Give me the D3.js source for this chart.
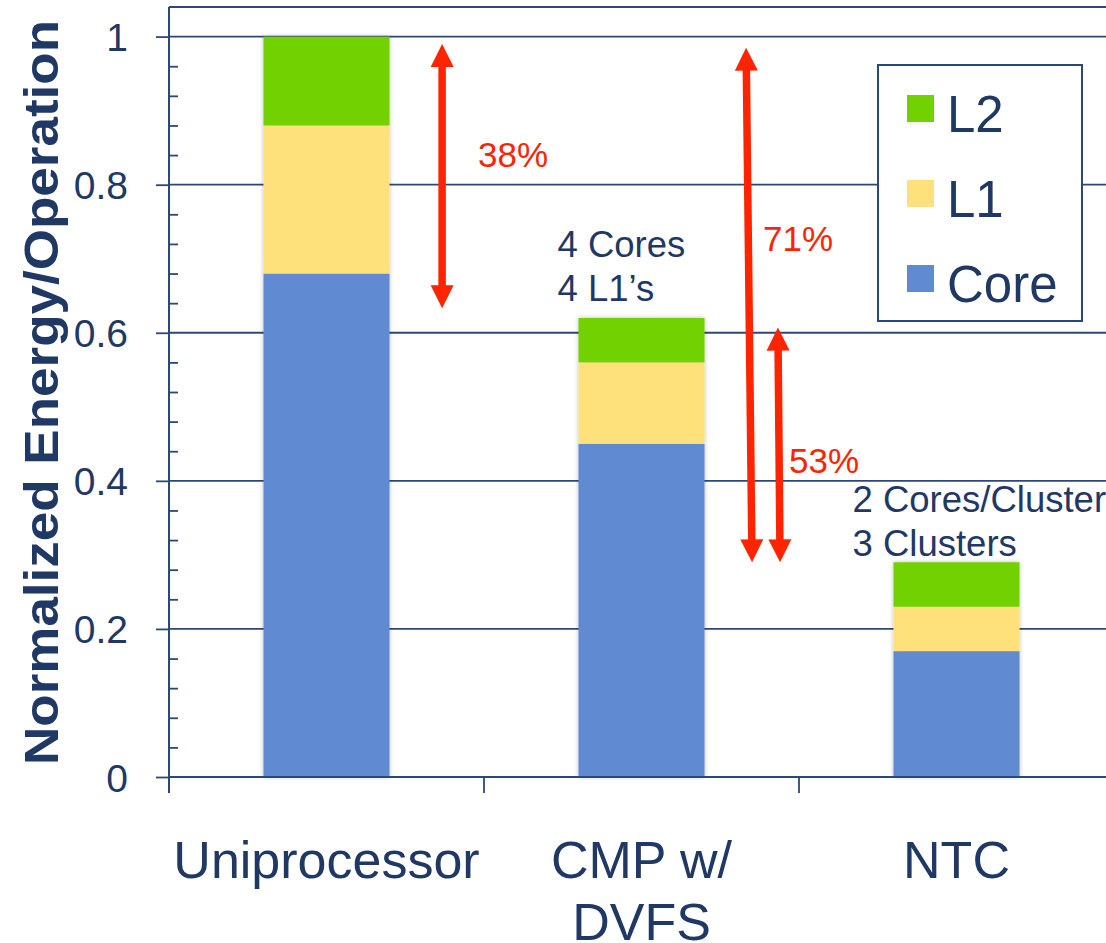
<!DOCTYPE html>
<html>
<head>
<meta charset="utf-8">
<script src="https://cdn.jsdelivr.net/npm/d3@7"></script>
<style>
  html, body { margin: 0; padding: 0; background: #fff; overflow: hidden; }
  svg { display: block; font-family: "Liberation Sans", Arial, Helvetica, sans-serif; }
</style>
</head>
<body>
<svg id="chart" width="1106" height="943"></svg>
<script>
// ---- data ----
const categories = ["Uniprocessor", "CMP w/ DVFS", "NTC"];
const categoryLines = [["Uniprocessor"], ["CMP w/", "DVFS"], ["NTC"]];
const seriesNames = ["Core", "L1", "L2"];
const coreValues = [0.68, 0.45, 0.17];
const l1Values = [0.20, 0.11, 0.06];
const l2Values = [0.12, 0.06, 0.06];
const yTicks = [0, 0.2, 0.4, 0.6, 0.8, 1];
const yTickLabels = ["0", "0.2", "0.4", "0.6", "0.8", "1"];
const yMax = 1.04;

// category notes above bars
const noteCategories = ["CMP w/ DVFS", "NTC"];
const noteLines = [["4 Cores", "4 L1\u2019s"], ["2 Cores/Cluster", "3 Clusters"]];

// reduction arrows (values on the energy axis)
const arrowLabels = ["38%", "71%", "53%"];
const arrowCategories = ["Uniprocessor", "CMP w/ DVFS", "CMP w/ DVFS"];
const arrowTop = [0.99, 0.985, 0.607];
const arrowBottom = [0.633, 0.29, 0.29];

// ---- layout / style ----
const navy = "#1F3864";
const lineColor = "#2C4878";
const red = "#FF2400";
const colors = { Core: "#608BD2", L1: "#FFE17B", L2: "#72D100" };
const arrowXTop = [0.867, 0.832, 0.933];     // fraction of category step
const arrowXBottom = [0.867, 0.851, 0.940];
const arrowLabelDx = [36, 14, 10];
const arrowLabelY = [0.824, 0.710, 0.411];
const noteDx = [-84, -104];
const noteBottomGap = [17, 6];

const svg = d3.select("#chart");
const plotLeft = 169, plotRight = 1114, plotTop = 7, plotBottom = 777;

const x = d3.scaleBand().domain(categories).range([plotLeft, plotRight])
  .paddingInner(0.6).paddingOuter(0.3);
const step = x.step();
const y = d3.scaleLinear().domain([0, yMax]).range([plotBottom, plotTop]);

const defs = svg.append("defs");
const f = defs.append("filter").attr("id", "barShadow")
  .attr("x", "-20%").attr("y", "-10%").attr("width", "140%").attr("height", "120%");
f.append("feDropShadow").attr("dx", 0).attr("dy", 0).attr("stdDeviation", 2.2)
  .attr("flood-color", "#000").attr("flood-opacity", 0.28);

// gridlines + top border
const grid = svg.append("g");
grid.selectAll("line").data(yTicks.filter(d => d > 0).concat([yMax])).join("line")
  .attr("x1", plotLeft).attr("x2", plotRight)
  .attr("y1", d => y(d)).attr("y2", d => y(d))
  .attr("stroke", lineColor).attr("stroke-width", 1.8);

// stacked bars
const stackData = categories.map((c, i) => ({ cat: c, Core: coreValues[i], L1: l1Values[i], L2: l2Values[i] }));
const stacked = d3.stack().keys(seriesNames)(stackData);
const barGroups = svg.append("g").selectAll("g").data(stackData).join("g")
  .attr("filter", "url(#barShadow)");
barGroups.each(function(d, i) {
  const g = d3.select(this);
  stacked.forEach(layer => {
    const seg = layer[i];
    g.append("rect")
      .attr("x", x(d.cat)).attr("width", x.bandwidth())
      .attr("y", y(seg[1])).attr("height", y(seg[0]) - y(seg[1]))
      .attr("fill", colors[layer.key]);
  });
});

// y axis (major ticks to the left, labels)
const yAxis = d3.axisLeft(y).tickValues(yTicks).tickSize(13).tickPadding(28)
  .tickFormat((d, i) => yTickLabels[i]);
const yg = svg.append("g").attr("transform", `translate(${plotLeft},0)`).call(yAxis);
yg.select(".domain").remove();
yg.selectAll(".tick line").attr("stroke", lineColor).attr("stroke-width", 1.8);
yg.selectAll(".tick text").attr("fill", navy).attr("font-size", 39)
  .attr("font-family", "Liberation Sans, Arial, sans-serif").attr("dy", "0.36em");

// minor ticks to the right of the axis
const minor = d3.range(0.04, yMax, 0.04).filter(v => Math.abs(v / 0.2 - Math.round(v / 0.2)) > 1e-6);
const ym = d3.axisRight(y).tickValues(minor).tickSize(9).tickFormat("");
const ymg = svg.append("g").attr("transform", `translate(${plotLeft},0)`).call(ym);
ymg.select(".domain").remove();
ymg.selectAll(".tick line").attr("stroke", lineColor).attr("stroke-width", 1.8);

// axis lines
svg.append("line").attr("x1", plotLeft).attr("x2", plotLeft).attr("y1", plotTop).attr("y2", plotBottom + 16)
  .attr("stroke", lineColor).attr("stroke-width", 2);
svg.append("line").attr("x1", plotLeft).attr("x2", plotRight).attr("y1", plotBottom).attr("y2", plotBottom)
  .attr("stroke", lineColor).attr("stroke-width", 2);

// x ticks at category boundaries
const bounds = categories.map(c => x(c) - step * 0.3).concat([plotRight]);
svg.append("g").selectAll("line").data(bounds).join("line")
  .attr("x1", d => d).attr("x2", d => d).attr("y1", plotBottom).attr("y2", plotBottom + 16)
  .attr("stroke", lineColor).attr("stroke-width", 1.8);

// x labels
const xl = svg.append("g").selectAll("text").data(categories).join("text")
  .attr("x", d => x(d) + x.bandwidth() / 2).attr("y", 878)
  .attr("text-anchor", "middle").attr("fill", navy).attr("font-size", 52);
xl.each(function(d, i) {
  d3.select(this).selectAll("tspan").data(categoryLines[i]).join("tspan")
    .attr("x", x(d) + x.bandwidth() / 2).attr("dy", (t, j) => j === 0 ? 0 : 62).text(t => t);
});

// y title
svg.append("text")
  .attr("transform", `translate(58,${(20 + 765) / 2}) rotate(-90)`)
  .attr("text-anchor", "middle").attr("fill", navy)
  .attr("font-size", 49).attr("font-weight", "bold")
  .attr("textLength", 745).attr("lengthAdjust", "spacingAndGlyphs")
  .text("Normalized Energy/Operation");

// notes above bars
noteCategories.forEach((c, i) => {
  const k = categories.indexOf(c);
  const cx = x(c) + x.bandwidth() / 2;
  const total = coreValues[k] + l1Values[k] + l2Values[k];
  const baseY = y(total) - noteBottomGap[i];
  svg.append("text").attr("fill", navy).attr("font-size", 36.5)
    .selectAll("tspan").data(noteLines[i]).join("tspan")
    .attr("x", cx + noteDx[i])
    .attr("y", (t, j) => baseY - (noteLines[i].length - 1 - j) * 44)
    .text(t => t);
});

// arrows
function arrow(g, x1, y1, x2, y2) {
  // double-headed arrow from (x1,y1) top tip to (x2,y2) bottom tip
  const head = 23, half = 11.5, w = 7.5;
  const dx = x2 - x1, dy = y2 - y1, len = Math.hypot(dx, dy);
  const ux = dx / len, uy = dy / len, px = -uy, py = ux;
  const a = [x1 + ux * head, y1 + uy * head], b = [x2 - ux * head, y2 - uy * head];
  g.append("line").attr("x1", a[0]).attr("y1", a[1] - uy).attr("x2", b[0]).attr("y2", b[1] + uy)
    .attr("stroke", red).attr("stroke-width", w);
  g.append("polygon").attr("fill", red).attr("points",
    [[x1, y1], [a[0] + px * half, a[1] + py * half], [a[0] - px * half, a[1] - py * half]].map(p => p.join(",")).join(" "));
  g.append("polygon").attr("fill", red).attr("points",
    [[x2, y2], [b[0] + px * half, b[1] + py * half], [b[0] - px * half, b[1] - py * half]].map(p => p.join(",")).join(" "));
}
const ag = svg.append("g");
arrowLabels.forEach((lab, i) => {
  const base = x(arrowCategories[i]) - step * 0.3;
  const xt = base + arrowXTop[i] * step, xb = base + arrowXBottom[i] * step;
  arrow(ag, xt, y(arrowTop[i]), xb, y(arrowBottom[i]));
  ag.append("text").attr("x", (xt + xb) / 2 + arrowLabelDx[i]).attr("y", y(arrowLabelY[i]))
    .attr("fill", red).attr("font-size", 35).text(lab);
});

// legend
const lg = svg.append("g");
lg.append("rect").attr("x", 878).attr("y", 65).attr("width", 204).attr("height", 256)
  .attr("fill", "#fff").attr("stroke", lineColor).attr("stroke-width", 2);
const legendOrder = seriesNames.slice().reverse();
legendOrder.forEach((s, i) => {
  lg.append("rect").attr("x", 907).attr("y", 95 + i * 85).attr("width", 27).attr("height", 27)
    .attr("fill", colors[s]);
  lg.append("text").attr("x", 947).attr("y", 132 + i * 85).attr("fill", navy)
    .attr("font-size", 51).text(s);
});
</script>
</body>
</html>
